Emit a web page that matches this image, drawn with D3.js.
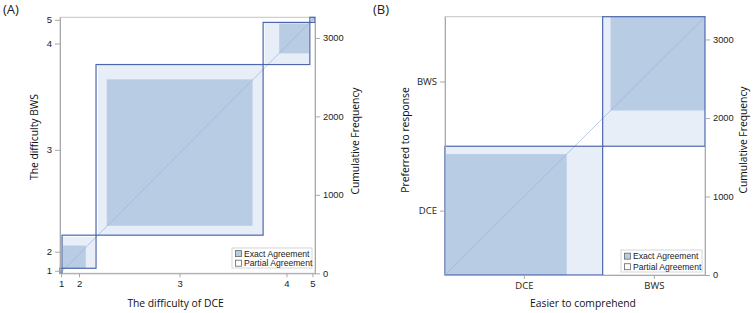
<!DOCTYPE html>
<html>
<head>
<meta charset="utf-8">
<script src="https://cdn.jsdelivr.net/npm/d3@7"></script>
<style>
  body { margin: 0; background: #fff; }
  text { font-family: "Liberation Sans", Arial, sans-serif; fill: #222; }
  .lbl { font-family: "Open Sans", "Liberation Sans", sans-serif; font-size: 10.3px; fill: #111; }
</style>
</head>
<body>
<div id="chart"></div>
<script>
// panel A: rows = difficulty of DCE, columns = difficulty of BWS
const catsA = ["1", "2", "3", "4", "5"];
const tableA = [
    [26, 0, 0, 0, 0],
    [13, 290, 120, 12, 0],
    [25, 112, 1866, 130, 5],
    [0, 20, 186, 380, 12],
    [0, 0, 3, 15, 48]
];
// panel B: rows = easier to comprehend, columns = preferred to response
const catsB = ["DCE", "BWS"];
const tableB = [
    [1540, 455],
    [100, 1195]
];
const freqTicks = [0, 1000, 2000, 3000];
const legendLabels = ["Exact Agreement", "Partial Agreement"];

const darkFill = "#b8cce4", lightFill = "#e7eef8", edge = "#4d67ad", grey = "#a9a9a9";

const svg = d3.select("#chart").append("svg")
    .attr("width", 753)
    .attr("height", 313);

function agreePlot(box, table, cats, xLabel, yLabel, lab, leg) {
    const k = cats.length;
    const rowTot = table.map(r => d3.sum(r));
    const colTot = cats.map((_, j) => d3.sum(table, r => r[j]));
    const N = d3.sum(rowTot);

    const x = d3.scaleLinear().domain([0, N]).range([box.left, box.right]);
    const y = d3.scaleLinear().domain([0, N]).range([box.bottom, box.top]);

    const rowStart = [0, ...d3.cumsum(rowTot)];
    const colStart = [0, ...d3.cumsum(colTot)];

    const cells = cats.map((c, i) => {
        const rowBefore = j => d3.sum(table[i].slice(0, j));
        const colBefore = j => d3.sum(table.slice(0, j), r => r[i]);
        const lo = Math.max(0, i - 1), hi = Math.min(k - 1, i + 1);
        return {
            x0: rowStart[i], y0: colStart[i], w: rowTot[i], h: colTot[i],
            ex: rowStart[i] + rowBefore(i), ey: colStart[i] + colBefore(i), n: table[i][i],
            px: rowStart[i] + rowBefore(lo), pw: rowBefore(hi + 1) - rowBefore(lo),
            py: colStart[i] + colBefore(lo), ph: colBefore(hi + 1) - colBefore(lo)
        };
    });

    const g = svg.append("g");

    // frame
    g.append("rect")
        .attr("x", box.left).attr("y", box.top)
        .attr("width", box.right - box.left).attr("height", box.bottom - box.top)
        .attr("fill", "none").attr("stroke", "#c4c4c4");

    // partial agreement
    g.selectAll(".partial").data(cells).enter().append("rect")
        .attr("x", d => x(d.px))
        .attr("y", d => y(d.py + d.ph))
        .attr("width", d => x(d.px + d.pw) - x(d.px))
        .attr("height", d => y(d.py) - y(d.py + d.ph))
        .attr("fill", lightFill);

    // exact agreement
    g.selectAll(".exact").data(cells).enter().append("rect")
        .attr("x", d => x(d.ex))
        .attr("y", d => y(d.ey + d.n))
        .attr("width", d => x(d.ex + d.n) - x(d.ex))
        .attr("height", d => y(d.ey) - y(d.ey + d.n))
        .attr("fill", darkFill);

    // diagonal
    g.append("line")
        .attr("x1", x(0)).attr("y1", y(0))
        .attr("x2", x(N)).attr("y2", y(N))
        .attr("stroke", "#9db4dc").attr("stroke-opacity", 0.8).attr("stroke-width", 0.9);

    // category rectangles
    g.selectAll(".cat").data(cells).enter().append("rect")
        .attr("x", d => x(d.x0))
        .attr("y", d => y(d.y0 + d.h))
        .attr("width", d => x(d.x0 + d.w) - x(d.x0))
        .attr("height", d => y(d.y0) - y(d.y0 + d.h))
        .attr("fill", "none")
        .attr("stroke", edge)
        .attr("stroke-width", 1.2);

    /* axes */
    const xCenters = cats.map((c, i) => rowStart[i] + rowTot[i] / 2);
    const yCenters = cats.map((c, i) => colStart[i] + colTot[i] / 2);

    const bottomAxis = g.append("g")
        .attr("transform", `translate(0, ${box.bottom})`)
        .call(d3.axisBottom(x).tickValues(xCenters).tickFormat((d, i) => cats[i]).tickSize(4).tickSizeOuter(0));
    const leftAxis = g.append("g")
        .attr("transform", `translate(${box.left}, 0)`)
        .call(d3.axisLeft(y).tickValues(yCenters).tickFormat((d, i) => cats[i]).tickSize(5).tickSizeOuter(0));
    const rightAxis = g.append("g")
        .attr("transform", `translate(${box.right}, 0)`)
        .call(d3.axisRight(y).tickValues(freqTicks).tickFormat(d3.format("d")).tickSize(5).tickSizeOuter(0));

    [bottomAxis, leftAxis, rightAxis].forEach(a => {
        a.select(".domain").attr("stroke", grey);
        a.selectAll(".tick line").attr("stroke", grey);
        a.selectAll(".tick text").attr("fill", "#1a1a1a")
            .style("font-size", lab.tickSize + "px")
            .style("font-family", lab.tickFont);
    });
    rightAxis.selectAll(".tick text").style("font-size", "9.3px")
        .style("font-family", "'Liberation Sans', Arial, sans-serif");

    // axis titles
    g.append("text").attr("class", "lbl")
        .attr("x", lab.xl[0]).attr("y", lab.xl[1])
        .attr("text-anchor", "middle")
        .text(xLabel);
    g.append("text").attr("class", "lbl")
        .attr("transform", `translate(${lab.yl[0]}, ${lab.yl[1]}) rotate(-90)`)
        .attr("text-anchor", "middle").attr("dy", "0.35em")
        .text(yLabel);
    g.append("text").attr("class", "lbl")
        .attr("transform", `translate(${lab.rl[0]}, ${lab.rl[1]}) rotate(-90)`)
        .attr("text-anchor", "middle").attr("dy", "0.35em")
        .text("Cumulative Frequency");

    g.append("text")
        .attr("x", lab.panel[0]).attr("y", lab.panel[1])
        .style("font-size", "13px")
        .style("font-family", "'Open Sans', sans-serif")
        .text(lab.panel[2]);

    // legend
    const lg = g.append("g").attr("transform", `translate(${leg.x}, ${leg.y})`);
    lg.append("rect")
        .attr("width", leg.w).attr("height", leg.h)
        .attr("fill", "#fff").attr("stroke", "#d6d6d6");
    legendLabels.forEach((t, i) => {
        const cy = leg.h * (i === 0 ? 0.28 : 0.76);
        lg.append("rect")
            .attr("x", 3.5).attr("y", cy - 3)
            .attr("width", 6).attr("height", 6)
            .attr("fill", i === 0 ? darkFill : "#fbfcfe")
            .attr("stroke", "#666").attr("stroke-width", 0.8);
        lg.append("text")
            .attr("x", 12).attr("y", cy).attr("dy", "0.35em")
            .style("font-size", "8.6px")
            .text(t);
    });
}

agreePlot({ left: 60, right: 315, top: 17.3, bottom: 273.3 }, tableA, catsA,
    "The difficulty of DCE", "The difficulty BWS",
    { xl: [175.5, 307], yl: [34, 137], rl: [355, 141], panel: [3, 14, "(A)"],
      tickSize: 9.5, tickFont: "'Liberation Sans', Arial, sans-serif" },
    { x: 232, y: 248, w: 80, h: 20 });

agreePlot({ left: 445, right: 705, top: 16.7, bottom: 275 }, tableB, catsB,
    "Easier to comprehend", "Preferred to response",
    { xl: [583, 307], yl: [405, 140], rl: [743, 140], panel: [373, 14, "(B)"],
      tickSize: 9.5, tickFont: "'Open Sans', sans-serif" },
    { x: 621, y: 250, w: 81, h: 22 });
</script>
</body>
</html>
